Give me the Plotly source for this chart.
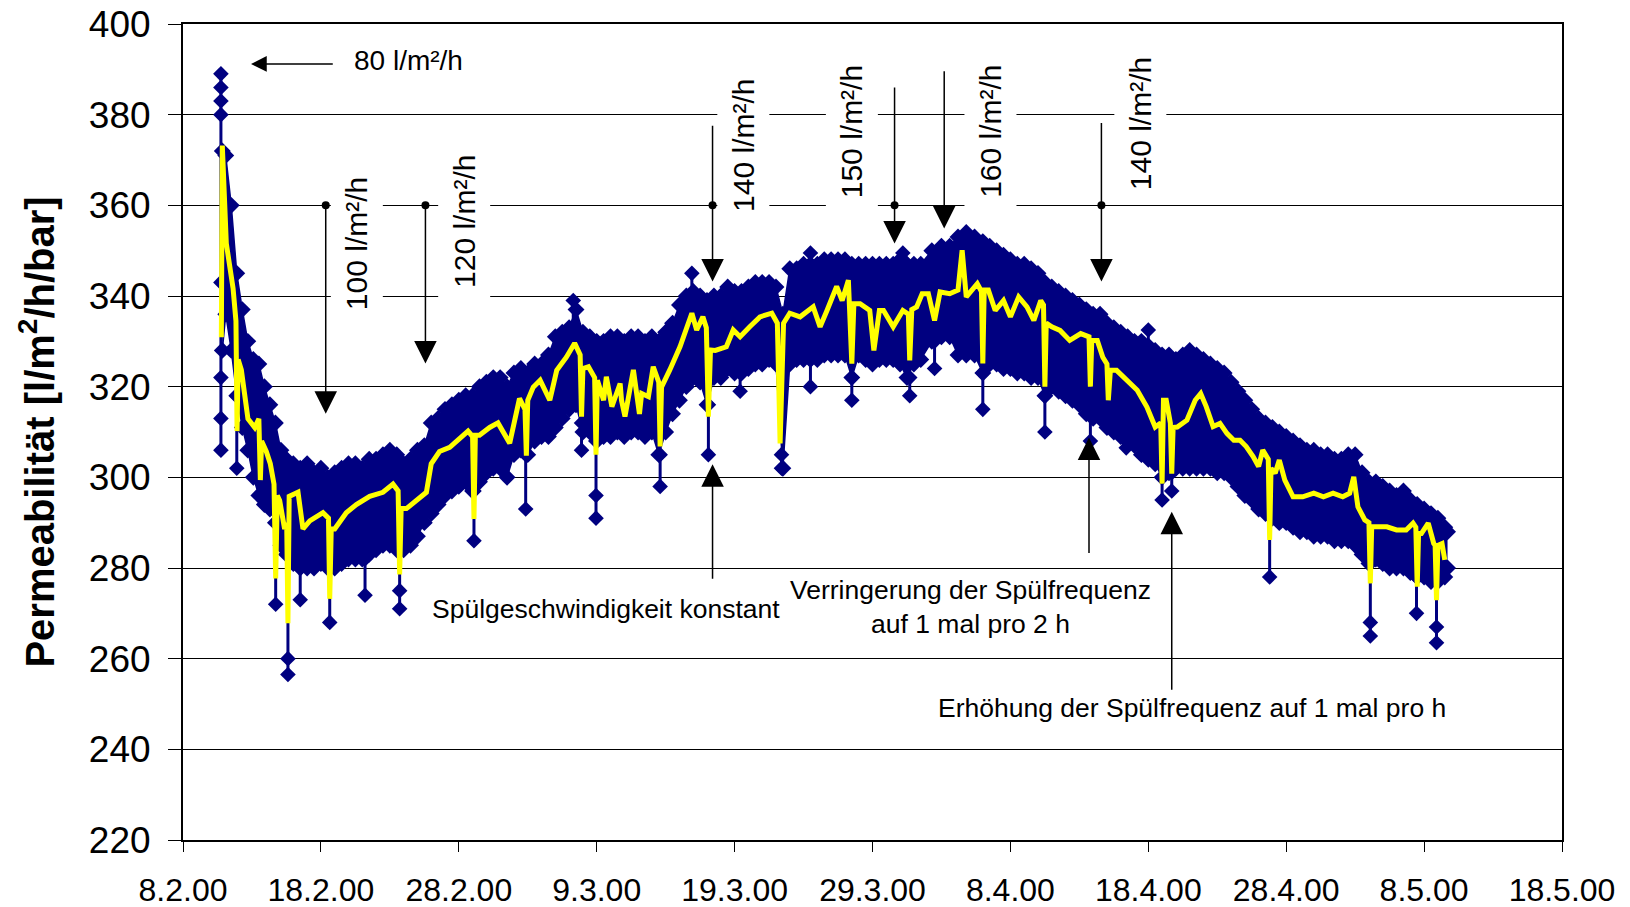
import plotly.graph_objects as go
import pandas as pd

START = pd.Timestamp("2000-02-08")

# ---------------- data (day offset from 8.2.2000, permeability) ----------------
yel_day = [2.78, 2.85, 3.14, 3.63, 3.84, 3.92, 4.0, 4.23, 4.47, 4.71, 5.2, 5.5, 5.61, 5.7,
           6.04, 6.33, 6.6, 6.72, 6.84, 7.01, 7.37, 7.52, 7.61, 7.7, 8.34, 8.7, 9.19, 9.67,
           10.15, 10.55, 10.64, 10.75, 11.0, 11.84, 12.57, 13.54, 14.5, 15.23, 15.6, 15.71,
           15.82, 16.2, 16.92, 17.65, 18.0, 18.6, 19.34, 20.06, 20.67, 21.0, 21.1, 21.2, 21.5,
           22.24, 22.84, 23.69, 24.4, 24.8, 24.9, 25.0, 25.4, 25.9, 26.6, 27.1, 27.8, 28.4,
           28.8, 28.9, 29.0, 29.4, 29.85, 29.95, 30.05, 30.5, 30.7, 31.1, 31.7, 31.8, 32.05,
           32.66, 33.1, 33.26, 33.75, 34.1, 34.5, 34.6, 34.7, 35.3, 36.04, 36.9, 37.25, 37.7,
           37.95, 38.1, 38.25, 38.6, 39.4, 39.9, 40.4, 41.1, 41.84, 42.7, 43.1, 43.3, 43.55,
           44.0, 44.75, 45.7, 46.2, 46.7, 47.4, 47.8, 48.25, 48.5, 48.65, 49.1, 49.8, 50.1,
           50.5, 50.8, 51.5, 52.2, 52.6, 52.7, 52.85, 53.2, 53.6, 54.05, 54.5, 54.9, 55.6,
           56.2, 56.5, 56.8, 57.6, 57.9, 58.0, 58.1, 58.4, 58.9, 59.5, 60.0, 60.6, 61.2, 61.7,
           62.2, 62.4, 62.5, 62.6, 63.0, 63.6, 64.3, 65.1, 65.7, 65.8, 65.9, 66.3, 66.7,
           67.0, 67.1, 67.25, 67.7, 68.4, 69.2, 69.9, 70.5, 70.9, 71.0, 71.1, 71.3, 71.6,
           71.7, 71.8, 72.1, 72.8, 73.4, 73.8, 74.2, 74.7, 75.2, 75.7, 76.2, 76.65, 77.1,
           77.6, 78.0, 78.3, 78.7, 78.8, 78.9, 79.2, 79.5, 79.9, 80.5, 81.2, 82.0, 82.7,
           83.4, 84.1, 84.6, 84.9, 85.2, 85.7, 86.0, 86.1, 86.2, 86.4, 87.3, 88.0, 88.7,
           89.2, 89.4, 89.5, 89.6, 89.8, 90.3, 90.7, 90.8, 90.9, 91.0, 91.3, 91.5]
yel_val = [330.9, 373.2, 351.6, 341.7, 334.5, 310.2, 326, 323.7, 318.3, 312.9, 311, 312.9, 299.4, 308,
           305.7, 303, 298.5, 277.7, 296, 294.9, 288.6, 290, 267.8, 295.8, 296.7, 288.6, 290.4, 291.3,
           292.2, 291, 273.2, 288.6, 288.6, 292.2, 294, 295.8, 296.7, 298.5, 297, 278.6,
           293.1, 293.1, 294.9, 296.7, 303, 305.7, 306.6, 308.4, 310.2, 309, 290.8, 309.3, 309.3,
           311, 312, 307.5, 317.4, 315, 304.8, 317, 319.9, 321.4, 317, 323.6, 326.5, 329.6,
           327, 313.4, 324, 324.4, 322, 305, 321.4, 317, 322.2, 315.6, 320.7, 317, 313.4,
           323.7, 314, 318.5, 317.8, 324.4, 321, 306.8, 319.9, 323.7, 328.8, 336.2, 332.5, 335.4,
           333, 313.4, 328.1, 328, 328.8, 332.5, 331, 333.2, 335.4, 336.2, 334, 307.5, 334,
           336.2, 335.4, 337.6, 333.2, 336.8, 342.1, 339, 343.5, 325.1, 338.3, 338.3, 336.8, 328,
           336.8, 336.8, 333.2, 336.8, 336, 325.8, 337, 337.6, 340.5, 340.5, 334.6, 340.9, 340.5,
           341.3, 350.1, 339.8, 342.7, 341, 325.1, 341.3, 341.3, 336.8, 339, 335.4, 339.8, 337.6, 334.6,
           339, 338, 320, 334, 333.2, 332.4, 330.2, 331.7, 331, 320, 330.2, 330.2, 326.5,
           325, 317, 323.6, 323.6, 321.4, 319.2, 315.5, 311.1, 312, 298.6, 317, 317, 312,
           300.8, 311, 311.1, 312.6, 317, 318.5, 315.6, 311.2, 311.9, 309.7, 308.2, 308.2, 306.8,
           304.6, 302.4, 306, 304, 286.2, 302, 300.9, 303.8, 299.4, 295.7, 295.7, 296.5, 295.7,
           296.5, 295.7, 296.5, 300.1, 293.5, 290.6, 290, 276.6, 289.1, 289.1, 289.1, 288.4, 288.4,
           289.9, 289, 275.9, 287.6, 287.6, 289.9, 285.4, 285, 272.9, 285, 285.4, 281.8]

band_day = [2.85, 3.1, 3.5, 3.9, 4.3, 4.7, 5.1, 5.5, 5.9, 6.3, 6.7, 7.1, 7.5,
            8.0, 8.5, 9.0, 9.5, 10.0, 10.5, 11.0, 11.5, 12.0, 12.5, 13.0, 13.5, 14.0, 14.5,
            15.0, 15.5, 16.0, 16.5, 17.0, 17.5, 18.0, 18.5, 19.0, 19.5, 20.0, 20.5, 21.0, 21.5,
            22.0, 22.5, 23.0, 23.5, 24.0, 24.5, 25.0, 25.5, 26.0, 26.5, 27.0, 27.5, 28.0, 28.5,
            29.0, 29.5, 30.0, 30.5, 31.0, 31.5, 32.0, 32.5, 33.0, 33.5, 34.0, 34.5, 35.0, 35.5,
            36.0, 36.5, 37.0, 37.5, 38.0, 38.5, 39.0, 39.5, 40.0, 40.5, 41.0, 41.5, 42.0, 42.5,
            43.0, 43.5, 44.0, 44.5, 45.0, 45.5, 46.0, 46.5, 47.0, 47.5, 48.0, 48.5, 49.0, 49.5,
            50.0, 50.5, 51.0, 51.5, 52.0, 52.5, 53.0, 53.5, 54.3, 55.0, 55.6, 56.2, 56.8, 57.4,
            58.0, 58.5, 59.0, 59.5, 60.0, 60.5, 61.0, 61.5, 62.0, 62.5, 63.0, 63.5, 64.0, 64.5,
            65.0, 65.5, 66.0, 66.5, 67.0, 67.5, 68.0, 68.5, 69.0, 69.5, 70.0, 70.5, 71.0, 71.5,
            72.0, 72.5, 73.0, 73.5, 74.0, 74.5, 75.0, 75.5, 76.0, 76.5, 77.0, 77.5, 78.0, 78.5,
            79.0, 79.5, 80.0, 80.5, 81.0, 81.5, 82.0, 82.5, 83.0, 83.5, 84.0, 84.5, 85.0, 85.5,
            86.0, 86.5, 87.0, 87.5, 88.0, 88.5, 89.0, 89.5, 90.0, 90.5, 91.0, 91.5, 91.7]
band_hi = [372, 371, 360, 345, 337, 330, 326, 325, 320, 316, 312, 306, 304,
           303, 302, 303, 301, 302, 300, 301, 302, 303, 303, 302, 304, 304, 305,
           306, 305, 303, 304, 306, 307, 312, 313, 315, 316, 317, 318, 318, 320,
           321, 322, 322, 320, 323, 324, 323, 325, 325, 327, 331, 332, 333, 337,
           332, 331, 330, 330, 331, 331, 330, 331, 331, 330, 331, 330, 332, 334,
           338, 340, 341, 340, 339, 340, 340, 342, 341, 341, 342, 343, 343, 343,
           342, 336, 346, 346, 347, 347, 347, 348, 348, 348, 348, 347, 347, 347,
           347, 347, 347, 347, 348, 347, 347, 347, 350, 351, 351, 353, 354, 353,
           352, 351, 350, 349, 348, 347, 347, 346, 345, 343, 342, 341, 340, 339,
           338, 337, 336, 336, 334, 333, 332, 331, 330, 330, 329, 328, 327, 327,
           326, 327, 328, 327, 326, 325, 324, 323, 321, 319, 317, 315, 313, 312,
           311, 310, 309, 308, 307, 306, 306, 305, 305, 304, 304, 305, 305, 301,
           299, 299, 298, 297, 296, 297, 295, 294, 293, 292, 291, 289, 288]
band_lo = [328, 336, 328, 318, 311, 306, 300, 296, 294, 293, 290, 285, 283,
           281, 280, 280, 280, 281, 280, 280, 281, 282, 282, 282, 283, 284, 285,
           285, 284, 284, 285, 287, 290, 292, 294, 296, 297, 298, 299, 297, 299,
           301, 302, 302, 300, 305, 306, 305, 308, 309, 309, 311, 313, 315, 316,
           310, 310, 308, 309, 309, 310, 309, 310, 310, 309, 310, 305, 310, 314,
           317, 320, 322, 321, 316, 322, 322, 324, 323, 323, 324, 325, 325, 326,
           325, 302, 325, 326, 326, 326, 326, 327, 327, 327, 327, 322, 327, 326,
           325, 326, 326, 326, 325, 322, 325, 326, 330, 331, 331, 327, 327, 327,
           323, 325, 325, 324, 324, 323, 323, 322, 322, 318, 320, 319, 318, 317,
           316, 314, 313, 313, 311, 310, 309, 308, 307, 305, 304, 303, 300, 301,
           302, 302, 302, 302, 302, 302, 301, 301, 300, 298, 296, 295, 293, 292,
           291, 290, 290, 289, 288, 288, 287, 287, 287, 286, 286, 286, 285, 283,
           281, 282, 281, 280, 280, 280, 279, 278, 278, 277, 277, 278, 280]

# isolated excursions of the measured values (day, upper end, lower end)
stem_day = [2.75, 3.9, 6.72, 7.61, 8.5, 10.64, 13.2, 15.71, 21.1, 24.85, 28.9, 29.95, 34.6,
            38.1, 40.4, 43.4, 45.5, 48.5, 52.7, 54.5, 58.0, 62.5, 65.8, 68.4, 71.0, 71.7,
            78.8, 86.1, 89.45, 90.9, 28.3, 36.9, 45.5, 52.2, 70.0]
stem_top = [389, 318, 290, 283, 280, 280, 282, 284, 297, 305, 312, 308, 305,
            316, 323, 305, 326, 322, 322, 330, 323, 318, 314, 308, 300, 301,
            292, 281, 278, 277, 339, 345, 349.5, 349.5, 332.5]
stem_low = [306, 302, 272, 256.5, 273, 268, 274, 271, 286, 293, 306, 291, 298,
            305, 319, 302, 320, 317, 318, 324, 315, 310, 308, 306.5, 295, 297,
            278, 265, 270, 263.5, 333, 340, 347, 348, 329]
pt_day = [2.75, 2.75, 2.75, 2.75, 2.75, 2.75, 7.61, 15.71, 29.95, 86.1, 90.9]
pt_val = [386, 383, 380, 322, 313, 343, 260, 275, 296, 268, 267]

# annotation geometry (day, value)
rate_text = ["100 l/m²/h", "120 l/m²/h", "140 l/m²/h", "150 l/m²/h", "160 l/m²/h", "140 l/m²/h"]
rate_text_day = [12.6, 20.4, 40.6, 48.5, 58.55, 69.4]
rate_text_val = [351.6, 356.4, 373.3, 376.3, 376.3, 377.9]
down_day = [10.35, 17.58, 38.4, 51.6, 55.2, 66.6]
down_from = [360, 360, 377.9, 386.3, 389.9, 378.5]
down_to = [314, 325.1, 343.2, 351.6, 354.9, 343.2]
dot_day = [10.35, 17.58, 38.4, 51.6, 66.6]
dot_val = [360, 360, 360, 360, 360]

up_day = [38.4, 65.7, 71.7]
up_from = [277.3, 283.0, 252.8]
up_to = [302.9, 308.8, 292.4]
note_text = ["Spülgeschwindigkeit konstant",
             "Verringerung der Spülfrequenz<br>auf 1 mal pro 2 h",
             "Erhöhung der Spülfrequenz auf 1 mal pro h"]
note_day = [30.7, 57.1, 73.15]
note_val = [271.0, 271.5, 249.1]

NAVY = "#000080"
YELLOW = "#FFFF00"
FONT = "Liberation Sans, Arial, sans-serif"


def d2t(d):
    return START + pd.Timedelta(days=d)


fig = go.Figure()

fig.add_trace(go.Scatter(
    x=[d2t(d) for d in band_day], y=band_lo, mode="lines+markers",
    line=dict(color=NAVY, width=1.5),
    marker=dict(symbol="diamond", size=13, color=NAVY), hoverinfo="skip", showlegend=False))
fig.add_trace(go.Scatter(
    x=[d2t(d) for d in band_day], y=band_hi, mode="lines+markers", fill="tonexty",
    fillcolor=NAVY, line=dict(color=NAVY, width=1.5),
    marker=dict(symbol="diamond", size=13, color=NAVY), hoverinfo="skip", showlegend=False))

sx, sy = [], []
for d, t, l in zip(stem_day, stem_top, stem_low):
    sx += [d2t(d), d2t(d), None]
    sy += [t, l, None]
fig.add_trace(go.Scatter(x=sx, y=sy, mode="lines+markers",
                         line=dict(color=NAVY, width=3),
                         marker=dict(symbol="diamond", size=12, color=NAVY),
                         hoverinfo="skip", showlegend=False))
fig.add_trace(go.Scatter(x=[d2t(d) for d in pt_day], y=pt_val, mode="markers",
                         marker=dict(symbol="diamond", size=12, color=NAVY),
                         hoverinfo="skip", showlegend=False))

fig.add_trace(go.Scatter(x=[d2t(d) for d in yel_day], y=yel_val, mode="lines",
                         line=dict(color=YELLOW, width=5), hoverinfo="skip", showlegend=False))

fig.add_trace(go.Scatter(x=[d2t(d) for d in dot_day], y=dot_val, mode="markers",
                         marker=dict(symbol="circle", size=8, color="black"),
                         hoverinfo="skip", showlegend=False))

ann = []
# horizontal arrow "80 l/m²/h"
ann.append(dict(x=d2t(4.93), y=391.2, ax=d2t(10.97), ay=391.2, xref="x", yref="y",
                axref="x", ayref="y", text="", showarrow=True, arrowhead=2,
                arrowsize=2.1, arrowwidth=1.5, arrowcolor="black", standoff=0))
ann.append(dict(x=d2t(16.36), y=392, xref="x", yref="y", text="80 l/m²/h",
                showarrow=False, font=dict(family=FONT, size=28, color="black")))
for d, f, t in zip(down_day, down_from, down_to):
    ann.append(dict(x=d2t(d), y=t, ax=d2t(d), ay=f, xref="x", yref="y", axref="x", ayref="y",
                    text="", showarrow=True, arrowhead=2, arrowsize=3, arrowwidth=1.5,
                    arrowcolor="black", standoff=0))
for d, f, t in zip(up_day, up_from, up_to):
    ann.append(dict(x=d2t(d), y=t, ax=d2t(d), ay=f, xref="x", yref="y", axref="x", ayref="y",
                    text="", showarrow=True, arrowhead=2, arrowsize=3, arrowwidth=1.5,
                    arrowcolor="black", standoff=0))
for s, d, v in zip(rate_text, rate_text_day, rate_text_val):
    ann.append(dict(x=d2t(d), y=v, xref="x", yref="y", text=s, textangle=-90,
                    showarrow=False, bgcolor="white", borderpad=9,
                    font=dict(family=FONT, size=30, color="black")))
for s, d, v in zip(note_text, note_day, note_val):
    ann.append(dict(x=d2t(d), y=v, xref="x", yref="y", text=s, align="center",
                    showarrow=False, font=dict(family=FONT, size=26.5, color="black")))

fig.update_layout(
    width=1630, height=907,
    margin=dict(l=183, r=68, t=24, b=67, autoexpand=False),
    paper_bgcolor="white", plot_bgcolor="white",
    font=dict(family=FONT, color="black"),
    annotations=ann,
    showlegend=False,
)
fig.update_xaxes(
    type="date", range=[START, d2t(100)], tick0=START, dtick=10 * 86400000,
    tickformat="%-d.%-m.%y", ticks="outside", ticklen=10, tickcolor="black",
    tickfont=dict(family=FONT, size=32, color="black"), ticklabelstandoff=11,
    showgrid=False, showline=True, linecolor="black", linewidth=2, mirror=True,
    zeroline=False, automargin=False,
)
fig.update_yaxes(
    range=[220, 400], dtick=20, tick0=220, ticks="outside", ticklen=13, tickcolor="black",
    tickfont=dict(family=FONT, size=37, color="black"), ticklabelstandoff=10,
    showgrid=True, gridcolor="black", gridwidth=1,
    showline=True, linecolor="black", linewidth=2, mirror=True, zeroline=False,
    automargin=False,
    title=dict(text="<b>Permeabilität [l/m<sup>2</sup>/h/bar]</b>",
               font=dict(family=FONT, size=40, color="black"), standoff=22),
)

fig.write_html("out.html")
